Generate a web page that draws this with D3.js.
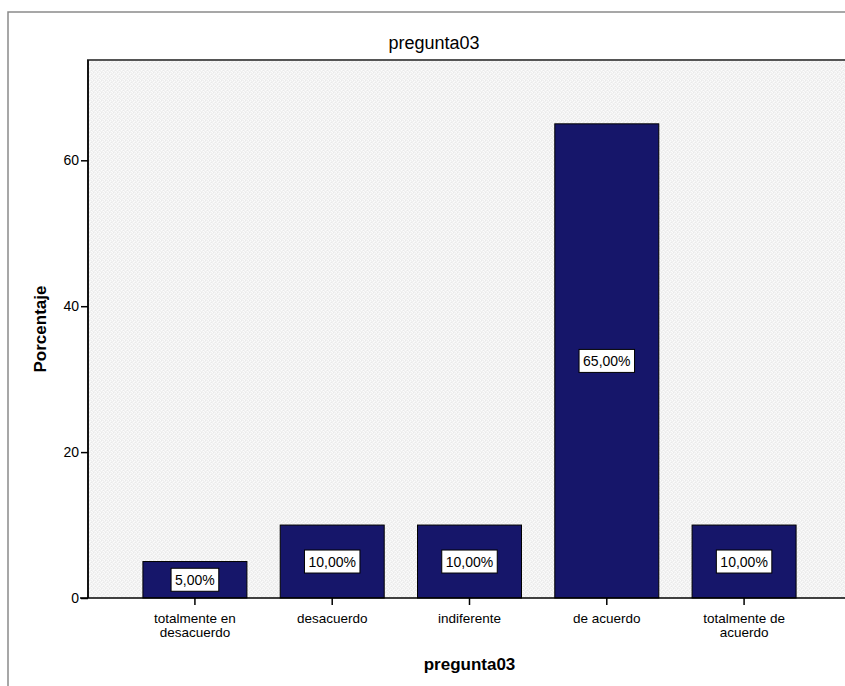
<!DOCTYPE html>
<html>
<head>
<meta charset="utf-8">
<script src="https://cdn.jsdelivr.net/npm/d3@7"></script>
<style>
  html, body { margin: 0; padding: 0; background: #ffffff; overflow: hidden; }
  svg { display: block; font-family: Arial, "Liberation Sans", sans-serif; }
</style>
</head>
<body>
<svg id="chart" width="845" height="686"></svg>
<script>
// Response categories for question 03 and their percentages
const categories = [
  ["totalmente en", "desacuerdo"],
  ["desacuerdo"],
  ["indiferente"],
  ["de acuerdo"],
  ["totalmente de", "acuerdo"]
];
const percentages = [5, 10, 10, 65, 10];
const valueLabels = ["5,00%", "10,00%", "10,00%", "65,00%", "10,00%"];
const yTicks = [0, 20, 40, 60];
const yMax = 73.75;

const chartTitle = "pregunta03";
const xTitle = "pregunta03";
const yTitle = "Porcentaje";

const svg = d3.select("#chart");

// plot region (extends slightly past the right edge of the window)
const plot = { left: 88, top: 60, right: 851, bottom: 598 };

// outer frame: only its left and top edges fall inside the window
svg.append("path")
  .attr("d", "M8,700 V12 H900")
  .attr("fill", "none")
  .attr("stroke", "#8a8a8a")
  .attr("stroke-width", 1.5);

// textured light background for the plot area
const defs = svg.append("defs");
const pat = defs.append("pattern")
  .attr("id", "grain")
  .attr("width", 4).attr("height", 4)
  .attr("patternUnits", "userSpaceOnUse");
pat.append("rect").attr("width", 4).attr("height", 4).attr("fill", "#f1f1f1");
[[0, 0], [2, 1], [1, 2], [3, 3]].forEach(([px, py]) => {
  pat.append("rect").attr("x", px).attr("y", py)
    .attr("width", 1).attr("height", 1).attr("fill", "#fbfbfb");
});
[[1, 0], [3, 2]].forEach(([px, py]) => {
  pat.append("rect").attr("x", px).attr("y", py)
    .attr("width", 1).attr("height", 1).attr("fill", "#e9e9e9");
});

svg.append("rect")
  .attr("x", plot.left).attr("y", plot.top)
  .attr("width", plot.right - plot.left)
  .attr("height", plot.bottom - plot.top)
  .attr("fill", "url(#grain)");

// plot border top and left
svg.append("path")
  .attr("d", `M${plot.left},${plot.bottom} V${plot.top} H${plot.right}`)
  .attr("fill", "none")
  .attr("stroke", "#555555")
  .attr("stroke-width", 2);

const x = d3.scaleBand()
  .domain(d3.range(categories.length))
  .range([plot.left, plot.right])
  .paddingInner(0.2425)
  .paddingOuter(0.40);

const y = d3.scaleLinear()
  .domain([0, yMax])
  .range([plot.bottom, plot.top]);

// bars
svg.append("g").selectAll("rect")
  .data(percentages)
  .join("rect")
  .attr("x", (d, i) => x(i))
  .attr("y", d => y(d))
  .attr("width", x.bandwidth())
  .attr("height", d => y(0) - y(d))
  .attr("fill", "#16166a")
  .attr("stroke", "#000000")
  .attr("stroke-width", 1);

// value labels in white boxes at bar middles
const lbl = svg.append("g").selectAll("g")
  .data(percentages)
  .join("g")
  .attr("transform", (d, i) => `translate(${x(i) + x.bandwidth() / 2},${(y(d) + y(0)) / 2})`);

lbl.append("text")
  .attr("text-anchor", "middle")
  .attr("dy", "0.36em")
  .attr("font-size", 14)
  .attr("fill", "#000000")
  .text((d, i) => valueLabels[i]);

lbl.each(function () {
  const g = d3.select(this);
  const bb = g.select("text").node().getBBox();
  g.insert("rect", "text")
    .attr("x", bb.x - 4)
    .attr("y", -11.5)
    .attr("width", bb.width + 8)
    .attr("height", 23)
    .attr("fill", "#ffffff")
    .attr("stroke", "#000000")
    .attr("stroke-width", 1);
});

// y axis
const yAxis = svg.append("g")
  .attr("transform", `translate(${plot.left},0)`)
  .call(d3.axisLeft(y).tickValues(yTicks).tickSize(7).tickPadding(2).tickFormat(d3.format("d")));
yAxis.select(".domain").remove();
yAxis.selectAll(".tick line").attr("stroke", "#000000").attr("stroke-width", 1.5);
yAxis.selectAll(".tick text").attr("font-size", 14).attr("fill", "#000000")
  .attr("font-family", "Arial, 'Liberation Sans', sans-serif");

svg.append("line")
  .attr("x1", plot.left).attr("x2", plot.left)
  .attr("y1", plot.top).attr("y2", plot.bottom)
  .attr("stroke", "#000000").attr("stroke-width", 1.5);

// x axis
const xAxis = svg.append("g")
  .attr("transform", `translate(0,${plot.bottom})`)
  .call(d3.axisBottom(x).tickSize(7).tickFormat(""));
xAxis.select(".domain").remove();
xAxis.selectAll(".tick line").attr("stroke", "#000000").attr("stroke-width", 1.5);

svg.append("line")
  .attr("x1", plot.left - 8).attr("x2", plot.right)
  .attr("y1", plot.bottom).attr("y2", plot.bottom)
  .attr("stroke", "#000000").attr("stroke-width", 1.5);

// multi-line category labels
const catText = svg.append("g").selectAll("text")
  .data(categories)
  .join("text")
  .attr("text-anchor", "middle")
  .attr("font-size", 13.5)
  .attr("fill", "#000000")
  .attr("x", (d, i) => x(i) + x.bandwidth() / 2)
  .attr("y", 623);
catText.selectAll("tspan")
  .data(d => d)
  .join("tspan")
  .attr("x", function () { return d3.select(this.parentNode).attr("x"); })
  .attr("dy", (d, j) => j === 0 ? 0 : 14)
  .text(d => d);

// titles
svg.append("text")
  .attr("x", 434).attr("y", 49)
  .attr("text-anchor", "middle")
  .attr("font-size", 18)
  .attr("fill", "#000000")
  .text(chartTitle);

svg.append("text")
  .attr("x", (plot.left + plot.right) / 2).attr("y", 670)
  .attr("text-anchor", "middle")
  .attr("font-size", 17)
  .attr("font-weight", "bold")
  .attr("fill", "#000000")
  .text(xTitle);

svg.append("text")
  .attr("transform", `translate(46,${(plot.top + plot.bottom) / 2}) rotate(-90)`)
  .attr("text-anchor", "middle")
  .attr("font-size", 17)
  .attr("font-weight", "bold")
  .attr("fill", "#000000")
  .text(yTitle);
</script>
</body>
</html>
